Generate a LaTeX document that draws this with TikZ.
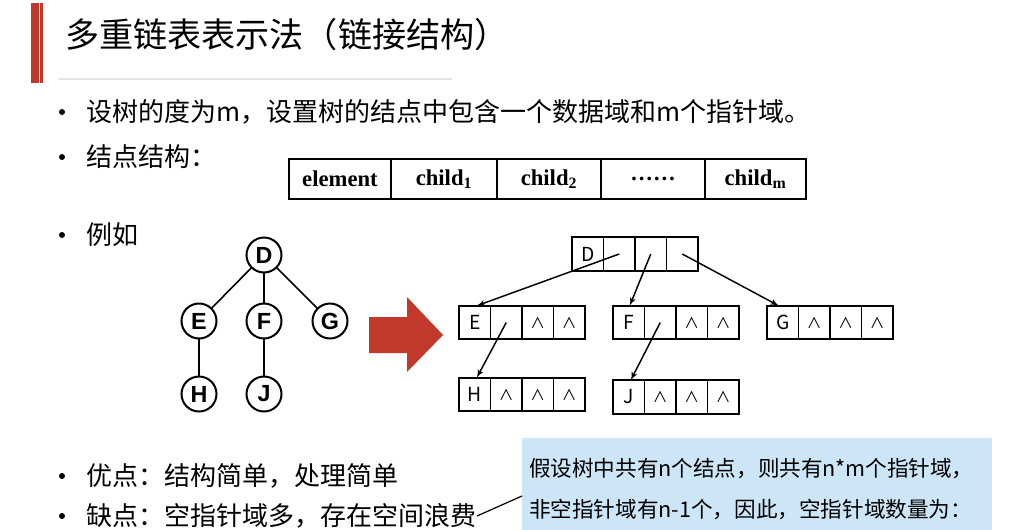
\documentclass[tikz,border=0pt]{standalone}
\usepackage{fontspec}
\setmainfont{Noto Sans CJK SC}
\newfontfamily\lettersf{Liberation Sans}
\newfontfamily\tablesf{Liberation Serif}
\usepackage{tikz}
\usetikzlibrary{arrows}
\usetikzlibrary{positioning}

\definecolor{brickred}{RGB}{192,57,43}
\definecolor{noteblue}{RGB}{205,230,247}
\definecolor{rulegray}{RGB}{228,228,228}

\begin{document}
\begin{tikzpicture}[x=0.75pt,y=-0.75pt,>=latex',
    every node/.style={inner sep=0pt,outer sep=0pt},
    body/.style={anchor=west,font=\fontsize{19.5}{23}\selectfont},
    field/.style={draw,line width=1.4pt,minimum height=40*\px,font=\tablesf\bfseries\fontsize{17}{20}\selectfont},
    treenode/.style={draw,circle,line width=1.5pt,minimum size=35*\px,font=\lettersf\bfseries\fontsize{17.5}{20}\selectfont},
    cellbox/.style={draw,line width=1.3pt,minimum width=31.5*\px,minimum height=33.5*\px,font=\fontsize{14.5}{17}\selectfont},
    notetext/.style={anchor=west,font=\fontsize{16.2}{19}\selectfont}]

\def\px{0.75pt}
\def\nul{\fontsize{11}{12}\selectfont ∧}

\useasboundingbox (0,0) rectangle (1010,529);

\fill[brickred] (31,3) rectangle (38.5,83);
\fill[brickred] (40,3) rectangle (43,83);
\node[anchor=west,font=\fontsize{25.6}{29}\selectfont] (title) at (65,35) {多重链表表示法（链接结构）};
\draw[rulegray,line width=1pt] (58,79) -- (452,79);

\foreach \y in {112,157,235,476,516}
    \fill (62,\y) circle[radius=3*\px];
\node[body] (degree) at (86,112) {设树的度为m，设置树的结点中包含一个数据域和m个指针域。};
\node[body] (layout) at (86,157) {结点结构：};
\node[body] (example) at (86,235) {例如};
\node[body] (pros) at (86,476) {优点：结构简单，处理简单};
\node[body] (cons) at (86,516) {缺点：空指针域多，存在空间浪费};

\foreach \i/\x/\w/\t in {0/340/102/element, 1/444/106/child\textsubscript{1}, 2/549/104/child\textsubscript{2}, 3/653/104/……, 4/755.5/101/child\textsubscript{m}}
    \node[field,minimum width=\w*\px] (f\i) at (\x,179) {\t};

\node[treenode] (tD) at (264,255) {D};
\node[treenode] (tE) at (199,321) {E};
\node[treenode] (tF) at (264,321) {F};
\node[treenode] (tG) at (330,321) {G};
\node[treenode] (tH) at (199,394) {H};
\node[treenode] (tJ) at (264,394) {J};
\draw[line width=1.2pt] (tD) -- (tE);
\draw[line width=1.2pt] (tD) -- (tF);
\draw[line width=1.2pt] (tD) -- (tG);
\draw[line width=1.2pt] (tE) -- (tH);
\draw[line width=1.2pt] (tF) -- (tJ);

\fill[brickred] (369,317) -- (407,317) -- (407,297) -- (443,335) -- (407,372) -- (407,353) -- (369,353) -- cycle;

\foreach \nm/\x/\y/\fa/\fb/\fc in {D/572/254/{}/{}/{}, E/459/322.5/{}/\nul/\nul, F/613/322.5/{}/\nul/\nul, G/767/322.5/\nul/\nul/\nul, H/459/394.5/\nul/\nul/\nul, J/613/397/\nul/\nul/\nul} {
    \node[cellbox,anchor=west] (\nm0) at (\x,\y) {\nm};
    \node[cellbox,right=0pt of \nm0] (\nm1) {\fa};
    \node[cellbox,right=0pt of \nm1] (\nm2) {\fb};
    \node[cellbox,right=0pt of \nm2] (\nm3) {\fc};
}

\draw[->,line width=1.1pt] (D1.center) -- ([xshift=2*\px]E0.north);
\draw[->,line width=1.1pt] (D2.center) -- ([xshift=1*\px]F0.north);
\draw[->,line width=1.1pt] (D3.center) -- ([xshift=-4*\px]G0.north);
\draw[->,line width=1.1pt] (E1.center) -- ([xshift=2*\px]H0.north);
\draw[->,line width=1.1pt] (F1.center) -- ([xshift=2*\px]J0.north);

\node[fill=noteblue,anchor=north west,minimum width=470*\px,minimum height=95*\px] (note) at (522,438) {};
\node[notetext] (count) at (529,469) {假设树中共有n个结点，则共有n*m个指针域，};
\node[notetext] (empty) at (529,510) {非空指针域有n-1个，因此，空指针域数量为：};
\coordinate (tip) at (522,496);
\draw[line width=0.9pt] ([xshift=1*\px]cons.east) -- (tip);

\end{tikzpicture}
\end{document}
